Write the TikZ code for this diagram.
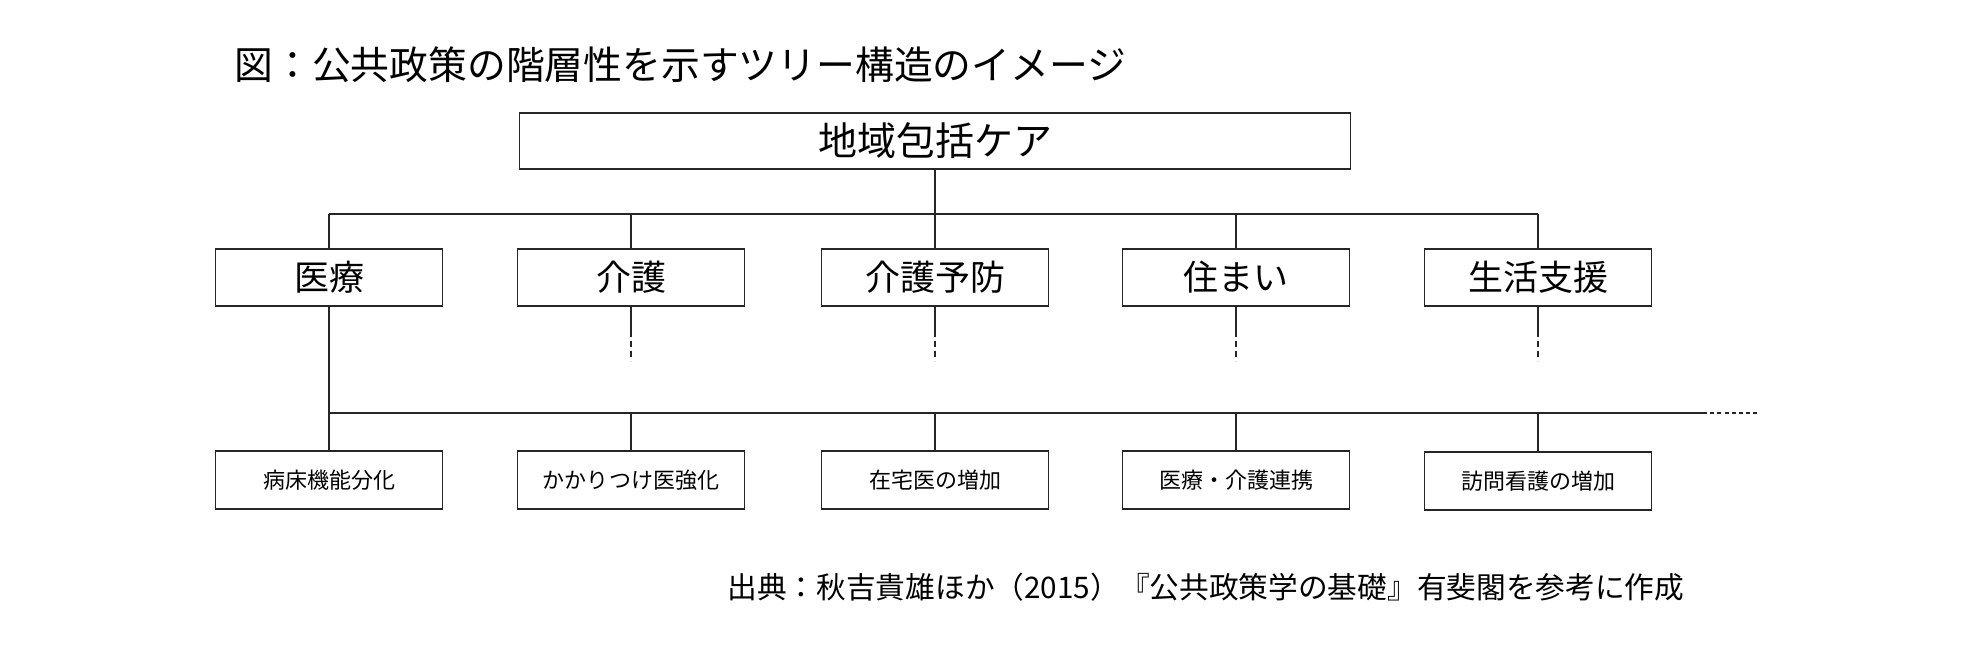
\documentclass[tikz,border=0pt]{standalone}
\usepackage{fontspec}
\setmainfont{Noto Sans CJK JP}
\begin{document}
\begin{tikzpicture}[x=0.5pt,y=-0.5pt,
  box/.style={draw=black!85, line width=0.7pt, minimum width=113.5pt, minimum height=28.5pt, inner sep=0pt},
  midbox/.style={box, font=\fontsize{17.5}{20}\selectfont},
  leafbox/.style={box, minimum height=29pt, font=\fontsize{11}{13}\selectfont},
  conn/.style={line width=0.6pt, draw=black!85},
  stub/.style={conn, dash pattern=on 3pt off 2pt},
  tail/.style={conn, dash pattern=on 2pt off 1.6pt}]
\useasboundingbox (0,0) rectangle (1975,648);

\node[anchor=west, inner sep=0pt, font=\fontsize{19.4}{22}\selectfont] (title) at (234,65) {図：公共政策の階層性を示すツリー構造のイメージ};

\node[box, minimum width=415.5pt, minimum height=28pt, font=\fontsize{19.5}{22}\selectfont] (root) at (935,141) {地域包括ケア};

\node[midbox] (m1) at (329,277.5) {医療};
\node[midbox] (m2) at (631,277.5) {介護};
\node[midbox] (m3) at (935,277.5) {介護予防};
\node[midbox] (m4) at (1236,277.5) {住まい};
\node[midbox] (m5) at (1538,277.5) {生活支援};

\node[leafbox] (l1) at (329,480) {病床機能分化};
\node[leafbox] (l2) at (631,480) {かかりつけ医強化};
\node[leafbox] (l3) at (935,480) {在宅医の増加};
\node[leafbox] (l4) at (1236,480) {医療・介護連携};
\node[leafbox] (l5) at (1538,481) {訪問看護の増加};

\node[anchor=west, inner sep=0pt, font=\fontsize{14.85}{18}\selectfont] (src) at (727,587) {出典：秋吉貴雄ほか（2015）『公共政策学の基礎』有斐閣を参考に作成};

% first level bus
\coordinate (busL) at (329,214);
\coordinate (busR) at (1538,214);
\draw[conn] (root.south) -- (root.south |- busL);
\draw[conn] (busL) -- (busR);
\foreach \i in {1,...,5}{
  \draw[conn] (m\i.north |- busL) -- (m\i.north);
}

% stubs below middle boxes
\foreach \i in {2,...,5}{
  \draw[conn] (m\i.south) -- ++(0,24) coordinate (s\i);
  \draw[stub] (s\i) -- ++(0,30);
}

% medical branch
\coordinate (bus2L) at (329,413);
\coordinate (bus2R) at (1703,413);
\coordinate (bus2E) at (1760,413);
\draw[conn] (m1.south) -- (l1.north);
\draw[conn] (bus2L) -- (bus2R);
\draw[tail] (bus2R) -- (bus2E);
\foreach \i in {2,...,5}{
  \draw[conn] (l\i.north |- bus2L) -- (l\i.north);
}
\end{tikzpicture}
\end{document}
